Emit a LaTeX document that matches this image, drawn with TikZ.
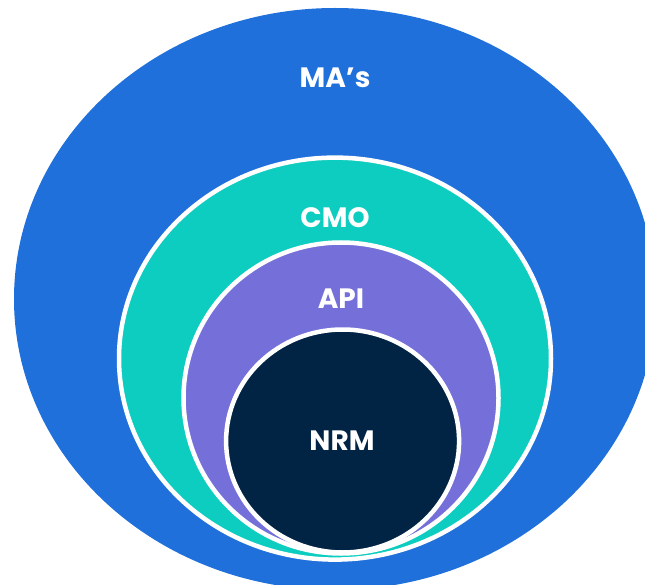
\documentclass[tikz,border=0pt]{standalone}
\usepackage{fontspec}
\setmainfont{Poppins}
\usetikzlibrary{shapes.geometric}
\definecolor{maBlue}{HTML}{2070DC}
\definecolor{cmoTeal}{HTML}{0DCDC0}
\definecolor{apiPurple}{HTML}{7570D9}
\definecolor{nrmNavy}{HTML}{012445}
\tikzset{
  ring/.style={ellipse, inner sep=0pt, outer sep=0pt},
  rimmed/.style={ring, draw=white, line width=4.5pt},
  lbl/.style={text=white, font=\bfseries\fontsize{28}{32}\selectfont, inner sep=0pt}
}
\begin{document}
\begin{tikzpicture}[x=1pt,y=-1pt]
  \useasboundingbox (0,0) rectangle (645,585);
  \begin{scope}
    \clip (0,0) rectangle (645,585);
    % nested layers, outermost first
    \node[ring, fill=maBlue, minimum width=642pt, minimum height=582pt] (ma) at (335,299) {};
    \node[rimmed, fill=cmoTeal, minimum width=432pt, minimum height=402pt] (cmo) at (335,358.6) {};
    \node[rimmed, fill=apiPurple, minimum width=315pt, minimum height=311pt] (api) at (341,398) {};
    \node[rimmed, fill=nrmNavy, minimum width=233pt, minimum height=223pt] (nrm) at (342.6,441) {};
  \end{scope}
  % labels
  \node[lbl] (maT) at (335,78) {MA’s};
  \node[lbl] (cmoT) at (335,218) {CMO};
  \node[lbl] (apiT) at (341,298.5) {API};
  \node[lbl] (nrmT) at (342,441) {NRM};
\end{tikzpicture}
\end{document}
